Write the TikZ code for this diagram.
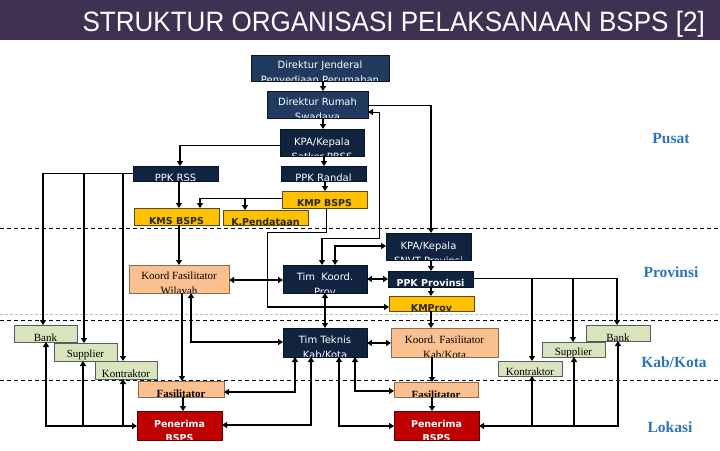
\documentclass[tikz,border=0pt]{standalone}
\usepackage{fontspec}
\setmainfont{Liberation Serif}
\newfontfamily\fdv{DejaVu Sans}
\newfontfamily\fls{Liberation Sans}
\usetikzlibrary{arrows.meta}
\definecolor{titlebg}{HTML}{3F3151}
\definecolor{navyA}{HTML}{203A60}
\definecolor{navyB}{HTML}{10243F}
\definecolor{navyD}{HTML}{0A1628}
\definecolor{ylwC}{HTML}{FFC000}
\definecolor{ylwD}{HTML}{5A4A10}
\definecolor{pchC}{HTML}{FAC090}
\definecolor{pchD}{HTML}{8C6A4A}
\definecolor{grnC}{HTML}{D7E4BD}
\definecolor{grnD}{HTML}{5A5A5A}
\definecolor{redC}{HTML}{C00000}
\definecolor{redD}{HTML}{5A0000}
\definecolor{regC}{HTML}{2E74B5}
\tikzset{
  bx/.style={draw, inner sep=0pt, outer sep=0pt, anchor=north west, line width=0.5pt},
  sz/.style 2 args={minimum width=#1pt, minimum height=#2pt},
  dkA/.style={bx, fill=navyA, draw=navyD},
  dkB/.style={bx, fill=navyB, draw=navyD},
  ylw/.style={bx, fill=ylwC, draw=ylwD},
  pch/.style={bx, fill=pchC, draw=pchD},
  grn/.style={bx, fill=grnC, draw=grnD},
  rdbx/.style={bx, fill=redC, draw=redD},
  dt/.style 2 args={path picture={\node[inner sep=0pt, minimum size=0pt, anchor=center, align=center, text=white, font=\fdv\fontsize{10}{15}\selectfont] at ([yshift=-#2pt]path picture bounding box.center) {#1};}},
  bt/.style 2 args={path picture={\node[inner sep=0pt, minimum size=0pt, anchor=center, align=center, text=white, font=\fdv\bfseries\fontsize{9.5}{14}\selectfont] at ([yshift=-#2pt]path picture bounding box.center) {#1};}},
  yt/.style 2 args={path picture={\node[inner sep=0pt, minimum size=0pt, anchor=center, align=center, text=black!85, font=\fdv\bfseries\fontsize{9.5}{14}\selectfont] at ([yshift=-#2pt]path picture bounding box.center) {#1};}},
  st/.style 2 args={path picture={\node[inner sep=0pt, minimum size=0pt, anchor=center, align=center, text=black, font=\fontsize{11}{15}\selectfont] at ([yshift=-#2pt]path picture bounding box.center) {#1};}},
  sbt/.style 2 args={path picture={\node[inner sep=0pt, minimum size=0pt, anchor=center, align=center, text=black, font=\bfseries\fontsize{11}{15}\selectfont] at ([yshift=-#2pt]path picture bounding box.center) {#1};}},
  reg/.style={text=regC, font=\bfseries\fontsize{15.5}{18}\selectfont, inner sep=0pt},
  thk/.style={line width=2.2pt, draw=black},
  thn/.style={line width=0.9pt, draw=black},
  ar/.style={-{Triangle[length=5pt,width=6pt]}},
  ar2/.style={{Triangle[length=5pt,width=6pt]}-{Triangle[length=5pt,width=6pt]}},
  sep/.style={line width=0.9pt, dash pattern=on 4pt off 3pt},
}
\begin{document}
\begin{tikzpicture}[x=1pt,y=-1pt]
\useasboundingbox (0,0) rectangle (720,450);
\fill[white] (0,0) rectangle (720,450);
% title bar
\fill[titlebg] (0,0) rectangle (720,40);
\node[text=white, font=\fls\fontsize{28}{30}\selectfont, anchor=base east, inner sep=0pt] (title) at (705,31) {\scalebox{0.93}[1]{STRUKTUR ORGANISASI PELAKSANAAN BSPS [2]}};
% level separators
\draw[sep] (0,228) -- (720,228);
\draw[sep] (0,320) -- (720,320);
\draw[sep] (0,380) -- (720,380);
\draw[line width=0.6pt, draw=black!25, dash pattern=on 3pt off 2pt] (0,314) -- (720,314);
% region labels
\node[reg] (pusat) at (671,139) {Pusat};
\node[reg] (prov) at (671,272) {Provinsi};
\node[reg] (kabkota) at (674,362) {Kab/Kota};
\node[reg] (lokasi) at (670,427) {Lokasi};
% nodes - pusat
\node[dkA, sz={138}{26}, dt={Direktur Jenderal\\Penyediaan Perumahan}{5.5}] (dj) at (251,55) {};
\node[dkA, sz={101}{27}, dt={Direktur Rumah\\Swadaya}{6}] (dr) at (267,91) {};
\node[dkB, sz={84}{27}, dt={KPA/Kepala\\Satker PBSS}{7}] (kpa) at (280,129) {};
\node[dkB, sz={85}{15}, dt={PPK RSS}{4.5}] (ppkrss) at (133,166) {};
\node[dkB, sz={85}{15}, dt={PPK Randal}{4.5}] (ppkr) at (281,166) {};
\node[ylw, sz={85}{17}, yt={KMP BSPS}{4}] (kmp) at (282,191) {};
\node[ylw, sz={85}{17}, yt={KMS BSPS}{4.5}] (kms) at (134,208) {};
\node[ylw, sz={85}{15}, yt={K.Pendataan}{4.5}] (kpd) at (223,210) {};
% provinsi
\node[dkB, sz={85}{27}, dt={KPA/Kepala\\SNVT Provinsi}{7}] (kpas) at (386,233) {};
\node[dkB, sz={84}{28}, dt={Tim~ Koord.\\Prov}{5.5}] (tkp) at (283,265) {};
\node[dkB, sz={85}{16}, bt={PPK Provinsi}{4}] (ppkp) at (388,271) {};
\node[ylw, sz={85}{15}, yt={KMProv}{4.5}] (kmprov) at (389,296) {};
\node[pch, sz={100}{28}, st={Koord Fasilitator\\Wilayah}{5.5}] (kfw) at (129,265) {};
% kab/kota
\node[grn, sz={63}{17}, st={Bank}{4.5}] (bankL) at (14,325) {};
\node[grn, sz={63}{18}, st={Supplier}{3}] (supL) at (54,343) {};
\node[grn, sz={62}{18}, st={Kontraktor}{3.5}] (konL) at (95,361) {};
\node[dkB, sz={84}{29}, dt={Tim Teknis\\Kab/Kota}{5.5}] (ttk) at (283,328) {};
\node[pch, sz={107}{29}, st={Koord. Fasilitator\\Kab/Kota}{5}] (kfk) at (391,328) {};
\node[grn, sz={64}{16}, st={Bank}{4.5}] (bankR) at (586,325) {};
\node[grn, sz={63}{15}, st={Supplier}{3}] (supR) at (542,342) {};
\node[grn, sz={64}{15}, st={Kontraktor}{3.5}] (konR) at (498,361) {};
% lokasi
\node[pch, sz={86}{16}, sbt={Fasilitator}{5}] (fasL) at (138,381) {};
\node[pch, sz={84}{15}, sbt={Fasilitator}{5}] (fasR) at (394,382) {};
\node[rdbx, sz={85}{29}, bt={Penerima\\BSPS}{5.5}] (penL) at (137,411) {};
\node[rdbx, sz={85}{29}, bt={Penerima\\BSPS}{5.5}] (penR) at (394,411) {};
% connectors - pusat
\draw[thk,ar] (323,0 |- dj.south) -- (323,0 |- dr.north);
\draw[thk,ar] (323,0 |- dr.south) -- (323,0 |- kpa.north);
\draw[thk,ar] (324,0 |- kpa.south) -- (324,0 |- ppkr.north);
\draw[thn] (kpa.west |- 0,145) -- (180,145);
\draw[thk,ar] (180,145) -- (180,0 |- ppkrss.north);
\draw[thk,ar] (325,0 |- ppkr.south) -- (325,0 |- kmp.north);
\draw[thk,ar] (179,0 |- ppkrss.south) -- (179,0 |- kms.north);
\draw[thn] (kmp.west |- 0,198) -- (200,198);
\draw[thk,ar] (200,198) -- (200,0 |- kms.north);
\draw[thk,ar] (245,198) -- (245,0 |- kpd.north);
\draw[thn] (dr.east |- 0,105) -- (431,105);
\draw[thk,ar] (431,105) -- (431,0 |- kpas.north);
\draw[thn,ar] (379,112) -- (dr.east |- 0,112);
\draw[thn] (379,112) -- (379,238) -- (322,238);
\draw[thk,ar] (322,238) -- (322,0 |- tkp.north);
\draw[thn] (326,0 |- kmp.south) -- (326,232) -- (267,232) -- (267,307);
\draw[thk,ar] (267,307) -- (kmprov.west |- 0,307);
% provinsi
\draw[thk,ar2] (kpas.west |- 0,246) -| (335,0 |- tkp.north);
\draw[thk,ar2] (kfw.east |- 0,280) -- (tkp.west |- 0,280);
\draw[thk,ar2] (tkp.east |- 0,279) -- (ppkp.west |- 0,279);
\draw[thk,ar] (431,0 |- kpas.south) -- (431,0 |- ppkp.north);
\draw[thk,ar] (431,0 |- ppkp.south) -- (431,0 |- kmprov.north);
\draw[thk,ar] (431,0 |- kmprov.south) -- (431,0 |- kfk.north);
\draw[thk,ar2] (325,0 |- tkp.south) -- (325,0 |- ttk.north);
\draw[thk,ar2] (191,0 |- kfw.south) |- (ttk.west |- 0,342);
\draw[thk,ar2] (ttk.east |- 0,343) -- (kfk.west |- 0,343);
\draw[thk,ar] (179,0 |- kms.south) -- (179,0 |- kfw.north);
\draw[thk,ar] (182,0 |- kfw.south) -- (182,0 |- fasL.north);
% left suppliers
\draw[thn] (ppkrss.west |- 0,173) -- (43,173);
\draw[thk,ar] (43,173) -- (43,0 |- bankL.north);
\draw[thk,ar] (84,173) -- (84,0 |- supL.north);
\draw[thk,ar] (123,173) -- (123,0 |- konL.north);
\draw[thk,ar2] (46,0 |- bankL.south) |- (penL.west |- 0,426);
\draw[thk,ar] (83,426) -- (83,0 |- supL.south);
\draw[thk,ar] (123,426) -- (123,0 |- konL.south);
% lokasi
\draw[thk,ar] (183,0 |- fasL.south) -- (183,0 |- penL.north);
\draw[thk,ar2] (295,0 |- ttk.south) |- (fasL.east |- 0,392);
\draw[thk,ar2] (311,0 |- ttk.south) |- (penL.east |- 0,425);
\draw[thk,ar2] (339,0 |- ttk.south) |- (penR.west |- 0,426);
\draw[thk,ar2] (355,0 |- ttk.south) |- (fasR.west |- 0,391);
\draw[thk,ar] (432,0 |- kfk.south) -- (432,0 |- fasR.north);
\draw[thk,ar] (432,0 |- fasR.south) -- (432,0 |- penR.north);
% right suppliers
\draw[thn] (ppkp.east |- 0,278) -- (617,278);
\draw[thk,ar] (532,278) -- (532,0 |- konR.north);
\draw[thk,ar] (573,278) -- (573,0 |- supR.north);
\draw[thk,ar] (617,278) -- (617,0 |- bankR.north);
\draw[thk,ar2] (618,0 |- bankR.south) |- (penR.east |- 0,426);
\draw[thk,ar] (532,426) -- (532,0 |- konR.south);
\draw[thk,ar] (574,426) -- (574,0 |- supR.south);
\end{tikzpicture}
\end{document}
